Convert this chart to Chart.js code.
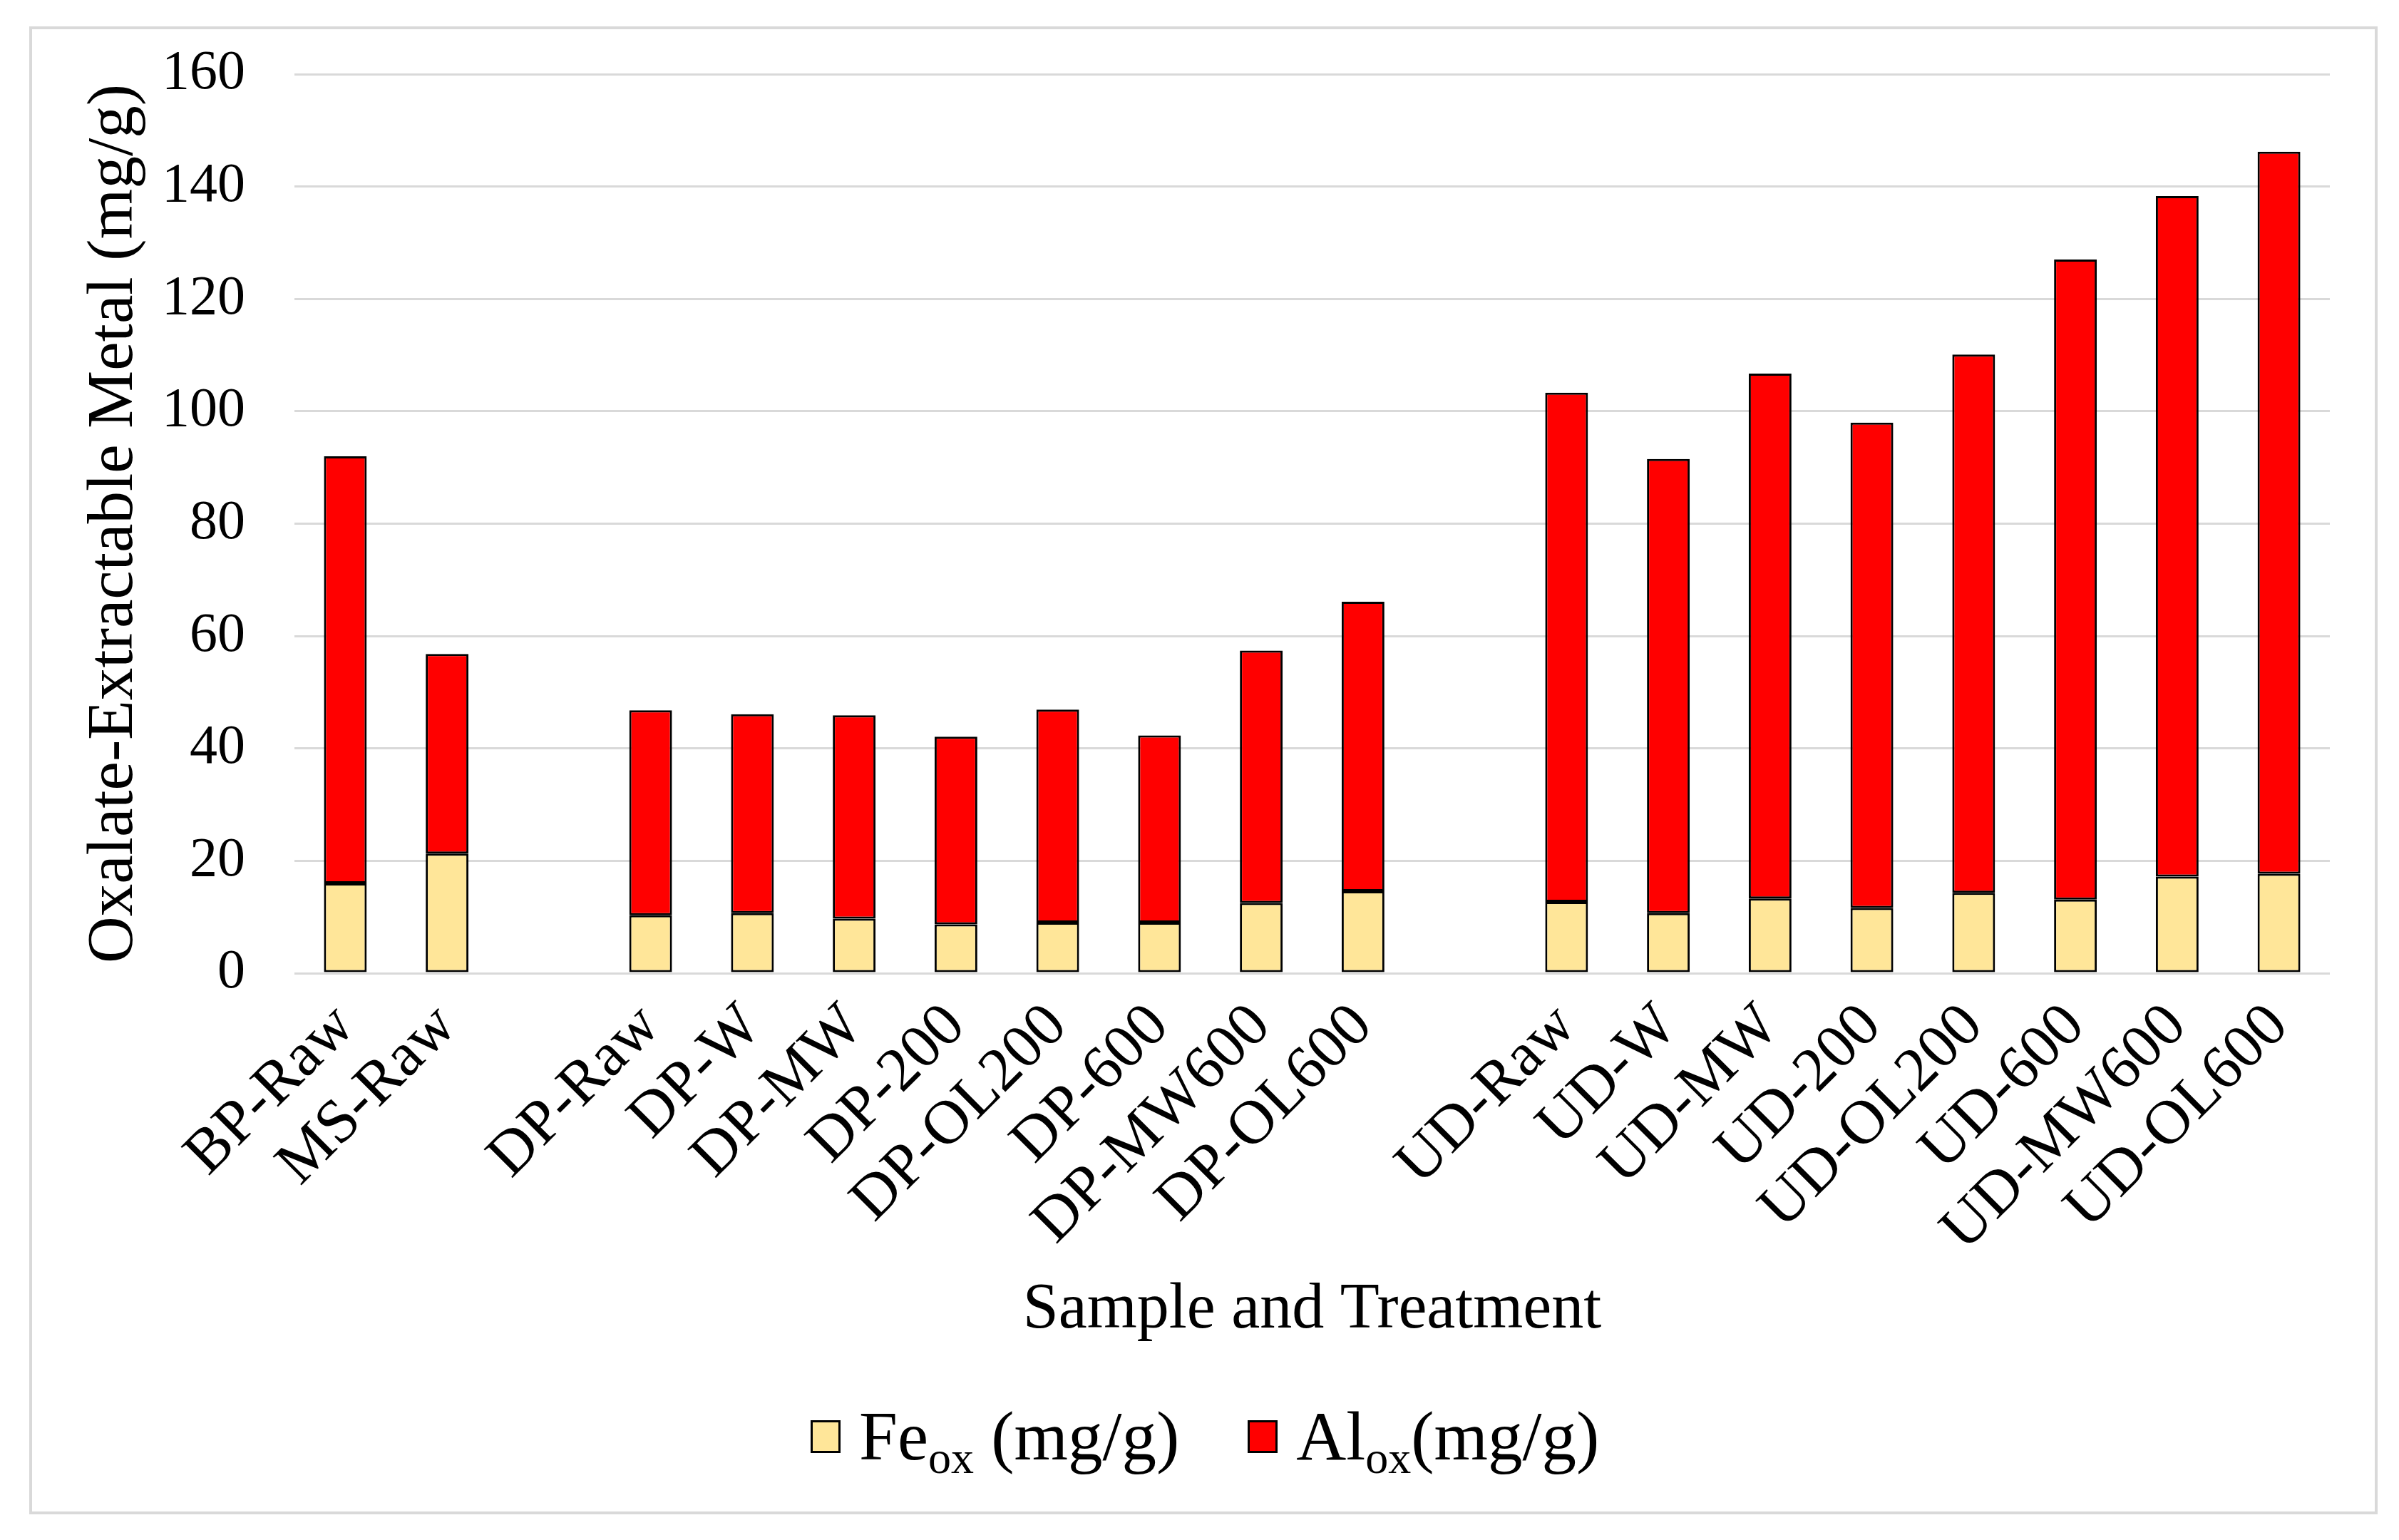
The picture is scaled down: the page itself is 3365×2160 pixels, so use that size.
<!DOCTYPE html>
<html>
<head>
<meta charset="utf-8">
<script src="https://cdn.jsdelivr.net/npm/chart.js@4.4.1/dist/chart.umd.min.js"></script>
<style>
  html, body { margin: 0; padding: 0; background: #fff; }
  #wrap { position: relative; width: 3365px; height: 2160px; }
  #legend {
    position: absolute; left: 1137px; top: 1960px;
    display: flex; align-items: center;
    font-family: "Liberation Serif", serif; font-size: 97px; line-height: 110px;
    color: #000; white-space: nowrap;
  }
  .item { display: flex; align-items: center; }
  .box { width: 36px; height: 40px; border: 3px solid #000; margin-right: 26px; }
  sub { font-size: 66%; vertical-align: -0.3em; line-height: 0; }
</style>
</head>
<body>
<div id="wrap">
  <canvas id="chart" width="3365" height="2160"></canvas>
  <div id="legend">
    <div class="item"><span class="box" style="background:#FFE699"></span><span>Fe<sub>ox</sub> (mg/g)</span></div>
    <div class="item" style="margin-left:96px"><span class="box" style="background:#FF0000"></span><span>Al<sub>ox</sub>(mg/g)</span></div>
  </div>
</div>
<script>
// empty labels are the gaps between the sample groups
const labels = ['BP-Raw', 'MS-Raw', '', 'DP-Raw', 'DP-W', 'DP-MW', 'DP-200', 'DP-OL200', 'DP-600', 'DP-MW600', 'DP-OL600',
  '', 'UD-Raw', 'UD-W', 'UD-MW', 'UD-200', 'UD-OL200', 'UD-600', 'UD-MW600', 'UD-OL600'];
const feOx = [16.0, 21.3, null, 10.3, 10.7, 9.7, 8.7, 9.0, 9.0, 12.5, 14.6,
  null, 12.7, 10.7, 13.3, 11.6, 14.3, 13.1, 17.2, 17.7];
const alOx = [76.0, 35.5, null, 36.5, 35.4, 36.2, 33.4, 37.9, 33.3, 44.9, 51.5,
  null, 90.6, 80.8, 93.4, 86.4, 95.8, 113.9, 121.1, 128.5];
const yTicks = [0, 20, 40, 60, 80, 100, 120, 140, 160];

const serif = '"Liberation Serif", serif';

// light grey frame round the whole figure
const framePlugin = {
  id: 'frame',
  beforeDraw(chart) {
    const ctx = chart.ctx;
    ctx.save();
    ctx.fillStyle = '#fff';
    ctx.fillRect(0, 0, chart.width, chart.height);
    ctx.strokeStyle = '#d9d9d9';
    ctx.lineWidth = 4;
    ctx.strokeRect(43, 39, 3290, 2083);
    ctx.restore();
  }
};

new Chart(document.getElementById('chart'), {
  type: 'bar',
  data: {
    labels: labels,
    datasets: [
      { label: 'Feox (mg/g)', data: feOx, backgroundColor: '#FFE699', borderColor: '#000', borderWidth: 3, borderSkipped: false },
      { label: 'Alox(mg/g)', data: alOx, backgroundColor: '#FF0000', borderColor: '#000', borderWidth: 3, borderSkipped: false }
    ]
  },
  options: {
    responsive: false,
    animation: false,
    devicePixelRatio: 1,
    layout: { padding: { left: 0, top: 104, right: 97, bottom: 260 } },
    datasets: { bar: { barPercentage: 0.42, categoryPercentage: 1 } },
    plugins: {
      legend: { display: false },
      tooltip: { enabled: false }
    },
    scales: {
      x: {
        stacked: true,
        grid: { display: false },
        border: { display: false },
        ticks: {
          autoSkip: false, maxRotation: 45, minRotation: 45, padding: 16,
          color: '#000', font: { family: serif, size: 87 }
        },
        title: {
          display: true, text: 'Sample and Treatment', color: '#000',
          font: { family: serif, size: 90 }, padding: { top: 0, bottom: 8 }
        },
        afterFit(scale) { scale.height = 535; }
      },
      y: {
        stacked: true,
        min: 0, max: 160,
        afterBuildTicks(scale) { scale.ticks = yTicks.map(v => ({ value: v })); },
        grid: { color: '#d9d9d9', lineWidth: 3, drawTicks: false },
        border: { display: false },
        ticks: { padding: 69, color: '#000', font: { family: serif, size: 78 } },
        title: {
          display: true, text: 'Oxalate-Extractable Metal (mg/g)', color: '#000',
          font: { family: serif, size: 91 }, padding: { top: 106, bottom: 0 }
        },
        afterFit(scale) {
          scale.width = 413;
          // tick padding would otherwise push the plot top down
          scale.paddingTop = 0;
          scale.paddingBottom = 0;
        }
      }
    }
  },
  plugins: [framePlugin]
});
</script>
</body>
</html>
